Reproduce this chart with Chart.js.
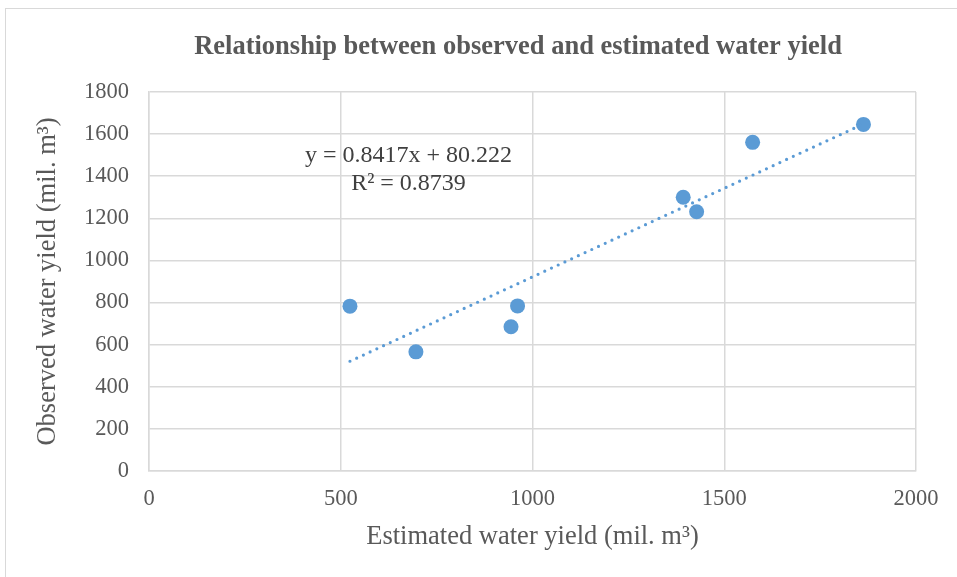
<!DOCTYPE html>
<html>
<head>
<meta charset="utf-8">
<script src="https://cdn.jsdelivr.net/npm/chart.js@4.4.1/dist/chart.umd.min.js"></script>
<style>
  html, body { margin: 0; padding: 0; background: #fff; }
  #wrap { position: relative; width: 957px; height: 577px; }
</style>
</head>
<body>
<div id="wrap"><canvas id="c" width="957" height="577"></canvas></div>
<script>
// Observations: estimated vs observed annual water yield (mil. m³)
const estimated = [524, 696, 944, 961, 1393, 1428, 1574, 1863];
const observed  = [783, 566, 685, 784, 1300, 1231, 1561, 1646];

// Linear trendline reported on the chart
const trendSlope = 0.8417;
const trendIntercept = 80.222;
const trendR2 = 0.8739;

// Axis ticks
const xTicks = [0, 500, 1000, 1500, 2000];
const yTicks = [0, 200, 400, 600, 800, 1000, 1200, 1400, 1600, 1800];

const chartTitle = 'Relationship between observed and estimated water yield';

const SERIF = '"Liberation Serif", "Times New Roman", serif';
const GREY_TEXT = '#595959';
const GRID = '#d9d9d9';
const BLUE = '#5B9BD5';

const points = estimated.map((x, i) => ({ x, y: observed[i] }));
const xMinData = Math.min(...estimated);
const xMaxData = Math.max(...estimated);
const trendPoints = [xMinData, xMaxData].map(x => ({ x, y: trendSlope * x + trendIntercept }));

// White background, thin outer frame and the chart heading
const framePlugin = {
  id: 'frame',
  beforeDraw(chart) {
    const ctx = chart.ctx;
    ctx.save();
    ctx.fillStyle = '#ffffff';
    ctx.fillRect(0, 0, chart.width, chart.height);
    ctx.strokeStyle = GRID;
    ctx.lineWidth = 1;
    ctx.strokeRect(5.5, 8.5, 1000, 1000);
    ctx.font = 'bold 26.5px ' + SERIF;
    ctx.fillStyle = GREY_TEXT;
    ctx.textAlign = 'center';
    ctx.textBaseline = 'middle';
    ctx.fillText(chartTitle, 518, 47);
    ctx.restore();
  }
};

// Trendline equation and R² text
const equationPlugin = {
  id: 'equation',
  afterDatasetsDraw(chart) {
    const ctx = chart.ctx;
    ctx.save();
    ctx.font = '24px ' + SERIF;
    ctx.fillStyle = '#404040';
    ctx.textAlign = 'center';
    ctx.textBaseline = 'middle';
    ctx.fillText('y = ' + trendSlope + 'x + ' + trendIntercept, 408.5, 156);
    ctx.fillText('R² = ' + trendR2, 408.5, 184);
    ctx.restore();
  }
};

new Chart(document.getElementById('c'), {
  type: 'scatter',
  data: {
    datasets: [
      {
        type: 'line',
        label: 'Linear trend',
        data: trendPoints,
        borderColor: BLUE,
        borderWidth: 3.2,
        borderDash: [0, 7.4],
        borderCapStyle: 'round',
        pointRadius: 0,
        fill: false,
        order: 0
      },
      {
        label: 'Observed',
        data: points,
        backgroundColor: BLUE,
        borderColor: BLUE,
        borderWidth: 0,
        pointRadius: 7.5,
        order: 1
      }
    ]
  },
  options: {
    responsive: false,
    animation: false,
    layout: { padding: { left: 0, right: 41, top: 92, bottom: 0 } },
    plugins: {
      legend: { display: false },
      tooltip: { enabled: false },
      title: { display: false }
    },
    scales: {
      x: {
        type: 'linear',
        min: xTicks[0],
        max: xTicks[xTicks.length - 1],
        afterBuildTicks(scale) { scale.ticks = xTicks.map(v => ({ value: v })); },
        afterFit(scale) { scale.height = 106; },
        ticks: {
          color: GREY_TEXT,
          font: { family: SERIF, size: 22.5 },
          padding: 15,
          maxRotation: 0,
          callback: v => String(v)
        },
        grid: { color: GRID, lineWidth: 1.5, drawTicks: false },
        border: { color: GRID, width: 1.5 },
        title: {
          display: true,
          text: 'Estimated water yield (mil. m³)',
          color: GREY_TEXT,
          font: { family: SERIF, size: 26.5 },
          padding: { top: 0, bottom: 24 }
        }
      },
      y: {
        type: 'linear',
        min: yTicks[0],
        max: yTicks[yTicks.length - 1],
        afterBuildTicks(scale) { scale.ticks = yTicks.map(v => ({ value: v })); },
        afterFit(scale) { scale.width = 149; },
        ticks: {
          color: GREY_TEXT,
          font: { family: SERIF, size: 22.5 },
          padding: 20,
          callback: v => String(v)
        },
        grid: { color: GRID, lineWidth: 1.5, drawTicks: false },
        border: { color: GRID, width: 1.5 },
        title: {
          display: true,
          text: 'Observed water yield (mil. m³)',
          color: GREY_TEXT,
          font: { family: SERIF, size: 26.5 },
          padding: { top: 32, bottom: 0 }
        }
      }
    }
  },
  plugins: [framePlugin, equationPlugin]
});
</script>
</body>
</html>
